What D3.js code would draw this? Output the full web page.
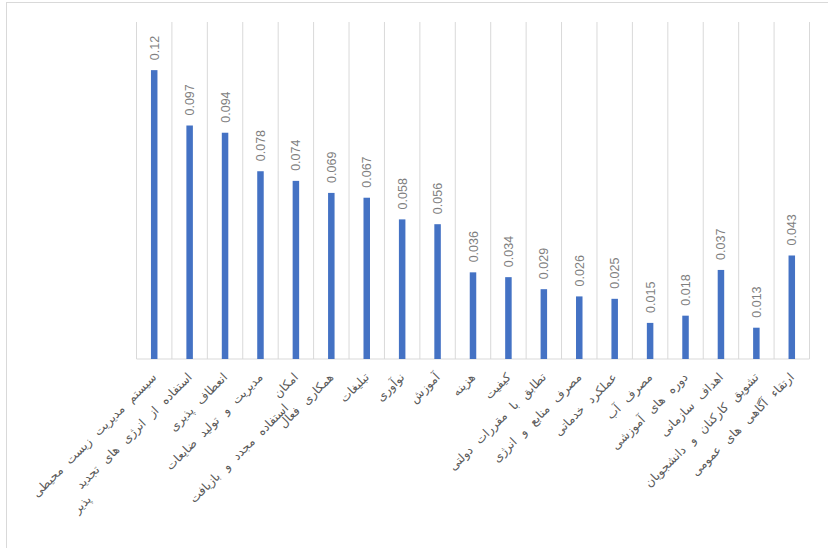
<!DOCTYPE html>
<html>
<head>
<meta charset="utf-8">
<script src="https://cdn.jsdelivr.net/npm/d3@7"></script>
<style>
  body { margin: 0; background: #fff; }
  svg { display: block; }
</style>
</head>
<body>
<script>
// categories (some labels wrap onto a second line)
var categories = [
  ["سیستم مدیریت زیست محیطی"],
  ["استفاده از انرژی های تجدید", "پذیر"],
  ["انعطاف پذیری"],
  ["مدیریت و تولید ضایعات"],
  ["امکان", "استفاده مجدد و بازیافت"],
  ["همکاری فعال"],
  ["تبلیغات"],
  ["نوآوری"],
  ["آموزش"],
  ["هزینه"],
  ["کیفیت"],
  ["تطابق با مقررات دولتی"],
  ["مصرف منابع و انرژی"],
  ["عملکرد خدماتی"],
  ["مصرف آب"],
  ["دوره های آموزشی"],
  ["اهداف سازمانی"],
  ["تشویق کارکنان و دانشجویان"],
  ["ارتقاء آگاهی های عمومی"]
];
var values = [0.12, 0.097, 0.094, 0.078, 0.074, 0.069, 0.067, 0.058, 0.056, 0.036,
              0.034, 0.029, 0.026, 0.025, 0.015, 0.018, 0.037, 0.013, 0.043];
var valueLabels = ["0.12", "0.097", "0.094", "0.078", "0.074", "0.069", "0.067", "0.058", "0.056", "0.036",
                   "0.034", "0.029", "0.026", "0.025", "0.015", "0.018", "0.037", "0.013", "0.043"];

var width = 828, height = 548;
var plotLeft = 136.5, plotRight = 809.5, plotTop = 22, plotBottom = 359;

var svg = d3.select("body").append("svg")
            .attr("width", width).attr("height", height);

// chart border (only top and left edges fall inside the picture)
svg.append("rect").attr("x", 6.5).attr("y", 2.5)
   .attr("width", 830).attr("height", 560)
   .attr("fill", "white").attr("stroke", "#d9d9d9");

var idx = d3.range(values.length);
var x = d3.scaleBand().domain(idx).range([plotLeft, plotRight]);
var y = d3.scaleLinear().domain([0, 0.14]).range([plotBottom, plotTop]);

// vertical gridlines at category boundaries
var bounds = idx.map(function(i){ return x(i); }).concat([plotRight]);
svg.append("g").selectAll("line").data(bounds).enter().append("line")
   .attr("x1", function(d){ return d; }).attr("x2", function(d){ return d; })
   .attr("y1", plotTop).attr("y2", plotBottom)
   .attr("stroke", "#d9d9d9").attr("stroke-width", 1);

// bottom axis line
svg.append("line").attr("x1", plotLeft).attr("x2", plotRight)
   .attr("y1", plotBottom).attr("y2", plotBottom)
   .attr("stroke", "#d9d9d9").attr("stroke-width", 1);

// bars
var barW = 6.5;
svg.append("g").selectAll("rect").data(values).enter().append("rect")
   .attr("x", function(d, i){ return x(i) + x.bandwidth() / 2 - barW / 2; })
   .attr("y", function(d){ return y(d); })
   .attr("width", barW)
   .attr("height", function(d){ return plotBottom - y(d); })
   .attr("fill", "#4472c4");

// value labels, rotated
svg.append("g").selectAll("text").data(values).enter().append("text")
   .attr("transform", function(d, i){
     return "translate(" + (x(i) + x.bandwidth() / 2 + 4.5) + "," + (y(d) - 10) + ") rotate(-90)";
   })
   .attr("font-family", "Liberation Sans, Arial, sans-serif")
   .attr("font-size", "12.5px")
   .attr("fill", "#7f7f7f")
   .text(function(d, i){ return valueLabels[i]; });

// category labels, rotated -45
var cat = svg.append("g").selectAll("g").data(categories).enter().append("g")
   .attr("transform", function(d, i){
     return "translate(" + (x(i) + x.bandwidth() / 2 + 3) + "," + (plotBottom + 19) + ") rotate(-45)";
   });

cat.each(function(lines){
  var g = d3.select(this);
  var offset = 0;
  lines.forEach(function(line, k){
    var t = g.append("text")
       .attr("x", -offset)
       .attr("y", k * 15)
       .attr("text-anchor", "end")
       .attr("font-family", "DejaVu Sans, sans-serif")
       .attr("font-size", "12px")
       .attr("letter-spacing", "1.8px")
       .attr("word-spacing", "5px")
       .attr("fill", "#595959")
       .text(line);
    offset += t.node().getComputedTextLength();
  });
});
</script>
</body>
</html>
